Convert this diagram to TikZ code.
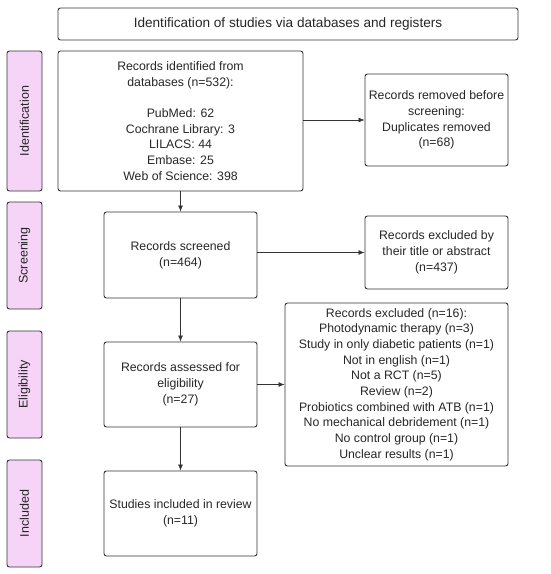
\documentclass[tikz,border=0pt]{standalone}
\usepackage{fontspec}
\setmainfont{Liberation Sans}
\usetikzlibrary{arrows.meta}
\definecolor{barpink}{HTML}{F6D4F8}
\definecolor{edge}{HTML}{333333}
\tikzset{
  box/.style={draw=edge, line width=0.9pt, rounded corners=2.5pt, align=center, inner sep=0pt,
    font=\fontsize{12.3}{15.7}\selectfont, text=black!85},
  bar/.style={box, fill=barpink, rotate=90,
    font=\fontsize{12.5}{14}\selectfont},
  arr/.style={draw=edge, line width=0.7pt, -{Latex[length=6pt,width=5pt]}}
}
\begin{document}
\begin{tikzpicture}[x=1pt,y=-1pt]
\useasboundingbox (0,0) rectangle (550,574);
\node[box, minimum width=460pt, minimum height=32pt, font=\fontsize{13.6}{16}\selectfont] (title) at (288,24) {Identification of studies via databases and registers};
\node[bar, minimum width=140pt, minimum height=35pt] (bid) at (24.5,121) {Identification};
\node[bar, minimum width=107pt, minimum height=35pt] (bsc) at (24.5,255.5) {Screening};
\node[bar, minimum width=107pt, minimum height=35pt] (bel) at (24.5,384.5) {Eligibility};
\node[bar, minimum width=107pt, minimum height=35pt] (bin) at (24.5,513.5) {Included};
\node[box, minimum width=245pt, minimum height=140pt] (ident) at (180.5,121) {Records identified from\\databases (n=532):\\[15.7pt]PubMed: 62\\Cochrane Library: 3\\LILACS: 44\\Embase: 25\\Web of Science: 398};
\node[box, minimum width=143pt, minimum height=92pt] (remov) at (436.5,120) {Records removed before\\screening:\\Duplicates removed\\(n=68)};
\node[box, minimum width=153pt, minimum height=86pt] (screen) at (180.5,255) {Records screened\\(n=464)};
\node[box, minimum width=143pt, minimum height=73pt] (exct) at (436.5,252.5) {Records excluded by\\their title or abstract\\(n=437)};
\node[box, minimum width=153pt, minimum height=85pt] (assess) at (180.5,384.5) {Records assessed for\\eligibility\\(n=27)};
\node[box, minimum width=223pt, minimum height=163pt] (exc16) at (396.5,384.5) {Records excluded (n=16):\\Photodynamic therapy (n=3)\\Study in only diabetic patients (n=1)\\Not in english (n=1)\\Not a RCT (n=5)\\Review (n=2)\\Probiotics combined with ATB (n=1)\\No mechanical debridement (n=1)\\No control group (n=1)\\Unclear results (n=1)};
\node[box, minimum width=153pt, minimum height=85pt] (incl) at (180.5,513.5) {Studies included in review\\(n=11)};
\draw[arr] (ident.south) -- (screen.north);
\draw[arr] (screen.south) -- (assess.north);
\draw[arr] (assess.south) -- (incl.north);
\draw[arr] (ident.east |- remov.west) -- (remov.west);
\draw[arr] (screen.east |- exct.west) -- (exct.west);
\draw[arr] (assess.east) -- (exc16.west);
\end{tikzpicture}
\end{document}
